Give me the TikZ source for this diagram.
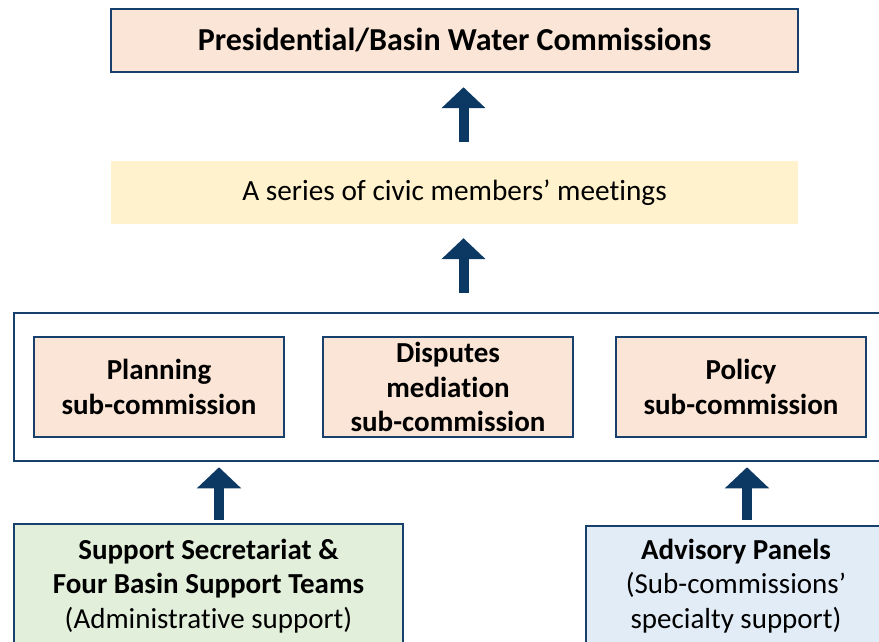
\documentclass[tikz,border=0pt]{standalone}
\usepackage{fontspec}
\setmainfont{Carlito}[Ligatures=NoCommon]
\usetikzlibrary{arrows.meta}
\definecolor{bordercol}{RGB}{24,64,108}
\definecolor{arrowcol}{RGB}{12,57,100}
\definecolor{peach}{RGB}{251,229,214}
\definecolor{paleyellow}{RGB}{255,242,204}
\definecolor{palegreen}{RGB}{226,239,218}
\definecolor{paleblue}{RGB}{226,236,247}
\tikzset{
  box/.style={draw=bordercol, line width=2.5pt, align=center, inner sep=0pt,
    font=\fontsize{29}{34.5}\selectfont\bfseries},
  subbox/.style={box, fill=peach, minimum width=250pt, minimum height=100pt},
  bigarrow/.style={draw=arrowcol, line width=10pt,
    -{Triangle[length=21pt,width=43pt]}, arrowcol},
}
\begin{document}
\begin{tikzpicture}[x=1pt,y=-1pt]
\useasboundingbox (0,0) rectangle (879,642);
\clip (0,0) rectangle (879,642);

\node[box, fill=peach, minimum width=687pt, minimum height=63pt,
  font=\fontsize{32}{37}\selectfont\bfseries] (title) at (454.5,40.5)
  {Presidential/Basin Water Commissions};

\node[fill=paleyellow, minimum width=687pt, minimum height=63pt, inner sep=0pt,
  font=\fontsize{29.3}{34.5}\selectfont] (meet) at (454.5,192.5)
  {A series of civic members’ meetings};

\node[box, fill=white, minimum width=886pt, minimum height=148pt] (group) at (457,387) {};

\node[subbox] (plan) at (159,387) {Planning\\sub-commission};
\node[subbox] (disp) at (448,387) {Disputes\\mediation\\sub-commission};
\node[subbox] (policy) at (741,387) {Policy\\sub-commission};

\node[box, fill=palegreen, minimum width=389pt, minimum height=124pt] (support) at (208.5,586)
  {Support Secretariat \&\\Four Basin Support Teams\\\mdseries(Administrative support)};

\node[box, fill=paleblue, minimum width=300pt, minimum height=120pt] (advisory) at (736,586)
  {Advisory Panels\\\mdseries(Sub-commissions’\\\mdseries specialty support)};

\draw[bigarrow, shorten <=19pt, shorten >=14pt] ([xshift=9pt]meet.north) -- ([xshift=9pt]title.south);
\draw[bigarrow, shorten <=19pt, shorten >=14pt] ([xshift=6.5pt]group.north) -- ([xshift=9pt]meet.south);
\draw[bigarrow, shorten <=3pt, shorten >=5pt] ([xshift=10.5pt]support.north) -- ([xshift=10.5pt]support.north |- group.south);
\draw[bigarrow, shorten <=5pt, shorten >=5pt] ([xshift=11pt]advisory.north) -- ([xshift=11pt]advisory.north |- group.south);
\end{tikzpicture}
\end{document}
